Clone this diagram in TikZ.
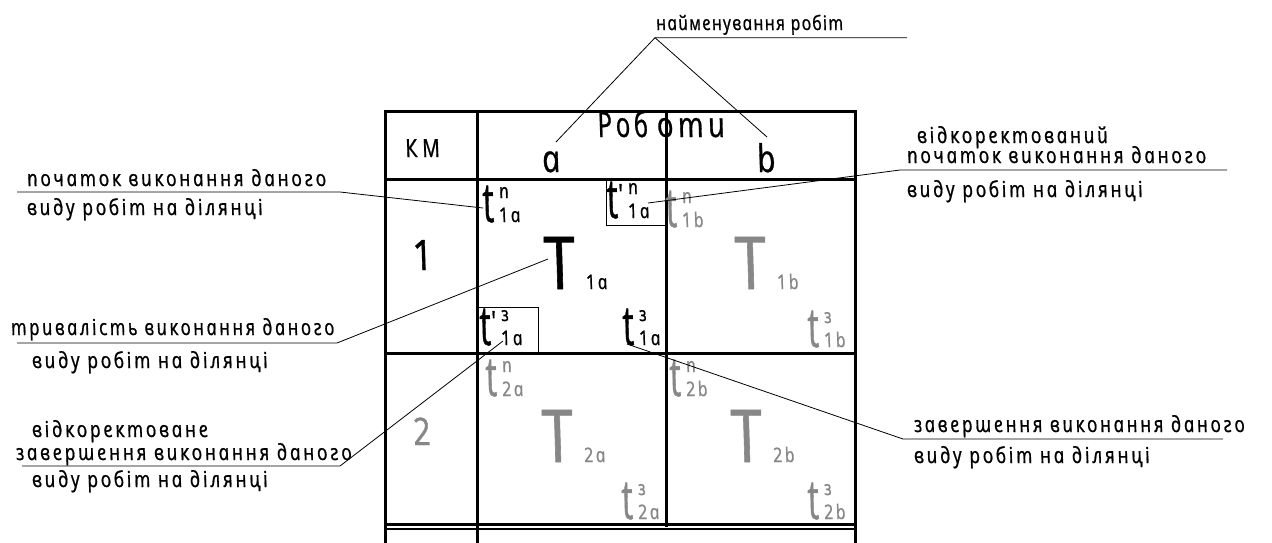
\documentclass[tikz,border=0pt]{standalone}
\usepackage{fontspec}
\usepackage{graphicx}
\newfontfamily\gost{Open Sans Italic}[FakeSlant=-0.21,FakeStretch=0.85,LetterSpace=12,FakeBold=0.8]
\newfontfamily\gostn{Open Sans Italic}[FakeSlant=-0.21,FakeStretch=0.85,LetterSpace=6,FakeBold=0.8]
\definecolor{gr}{HTML}{878787}
\newcommand\tglyph{{\fontsize{46}{46}\selectfont\scalebox{0.85}[1.2]{t}}}
\newcommand\tsym[3]{\tglyph#1\kern4pt\vbox{\fontsize{20}{24}\selectfont\hbox{#2}\hbox{#3}}}
\newcommand\prm{\raisebox{14pt}{\fontsize{28}{28}\selectfont'}}
\newcommand\Tsym[1]{{\fontsize{73}{73}\selectfont T}\kern8pt{\fontsize{20}{20}\selectfont #1}}
\begin{document}
\begin{tikzpicture}[x=1pt,y=-1pt,
  every node/.style={inner sep=0pt,font=\gost},
  tab/.style={line width=3pt,line cap=rect},
  tabthin/.style={line width=2.2pt,line cap=rect},
  lead/.style={line width=0.8pt},
  thinbox/.style={draw,line width=1pt},
  lbl/.style={anchor=base west,font={\gost\fontsize{22}{24}\selectfont}},
  sym/.style={anchor=base west},
  grey/.style={text=gr}]
\useasboundingbox (0,0) rectangle (1272,542);
% table
\draw[tab] (385,111) -- (855,111);
\draw[tab] (385,111) -- (385,525);
\draw[tab] (855,111) -- (855,525);
\draw[tab] (477,111) -- (477,525);
\draw[tab] (666,111) -- (666,525);
\draw[tab] (385,179) -- (855,179);
\draw[tab] (385,353) -- (855,353);
\draw[tabthin] (385,524.5) -- (855,524.5);
\draw[tabthin] (385,529) -- (855,529);
\draw[tab] (385,525) -- (385,545);
\draw[tab] (477,525) -- (477,545);
\draw[tab] (855,525) -- (855,545);
% header
\node[anchor=base] (km) at (424,157) {\fontsize{25}{25}\selectfont К\kern5ptМ};
\node[anchor=base west] (rob) at (599,137) {\fontsize{35}{35}\selectfont\scalebox{0.87}[1]{Роб}\hspace{9pt}оти};
\node[anchor=base west] (ha) at (544,172) {\fontsize{38}{38}\selectfont a};
\node[anchor=base west] (hb) at (759,172) {\fontsize{38}{38}\selectfont b};
\node[anchor=base] (r1) at (425,270) {\fontsize{42}{42}\selectfont 1};
\node[anchor=base,grey] (r2) at (424,445) {\fontsize{38}{38}\selectfont 2};
% row 1
\node[sym] (tn1a) at (485,222) {\tsym{}{п}{1a}};
\node[thinbox,anchor=north west,minimum width=60pt,minimum height=46pt] (bx1) at (606,179) {};
\node[sym] (tpn1a) at (609,218) {\tsym{\prm}{п}{1a}};
\node[sym] (T1a) at (548,289) {\Tsym{1a}};
\node[thinbox,anchor=north west,minimum width=61pt,minimum height=46pt] (bx2) at (477,307) {};
\node[sym] (tp31a) at (482,345) {\tsym{\prm}{з}{1a}};
\node[sym] (t31a) at (625,345) {\tsym{}{з}{1a}};
\node[sym,grey] (tn1b) at (668,227) {\tsym{}{п}{1b}};
\node[sym,grey] (T1b) at (739,289) {\Tsym{1b}};
\node[sym,grey] (t31b) at (810,347) {\tsym{}{з}{1b}};
% row 2
\node[sym,grey] (tn2a) at (488,396) {\tsym{}{п}{2a}};
\node[sym,grey] (T2a) at (546,462) {\Tsym{2a}};
\node[sym,grey] (t32a) at (624,519) {\tsym{}{з}{2a}};
\node[sym,grey] (tn2b) at (672,396) {\tsym{}{п}{2b}};
\node[sym,grey] (T2b) at (735,462) {\Tsym{2b}};
\node[sym,grey] (t32b) at (810,519) {\tsym{}{з}{2b}};
% labels
\node[anchor=base west,font={\gostn\fontsize{20}{24}\selectfont}] (L1) at (657,30) {найменування робіт};
\node[lbl] (L2a) at (918,143) {відкоректований};
\node[lbl] (L2b) at (908,163) {початок виконання даного};
\node[lbl] (L2c) at (908,197) {виду робіт на ділянці};
\node[lbl] (L3a) at (28,186) {початок виконання даного};
\node[lbl] (L3b) at (28,215) {виду робіт на ділянці};
\node[lbl] (L4a) at (12,335) {\scalebox{0.96}[1]{тривалість виконання даного}};
\node[lbl] (L4b) at (33,368) {виду робіт на ділянці};
\node[lbl] (L5a) at (33,437) {відкоректоване};
\node[lbl] (L5b) at (17,460) {завершення виконання даного};
\node[lbl] (L5c) at (33,487) {виду робіт на ділянці};
\node[lbl] (L6a) at (915,432) {\scalebox{0.985}[1]{завершення виконання даного}};
\node[lbl] (L6b) at (915,463) {виду робіт на ділянці};
% leader coordinates
\coordinate (u1s) at (655,37.7); \coordinate (u1e) at (907,37.7);
\coordinate (pa) at (556,142); \coordinate (pb) at (767,137);
\coordinate (u2s) at (900,170); \coordinate (u2e) at (1227,170); \coordinate (p2) at (648,203);
\coordinate (u3s) at (17,192); \coordinate (u3e) at (340,192); \coordinate (p3) at (483,208);
\coordinate (u4s) at (17,343); \coordinate (u4e) at (337,343); \coordinate (p4) at (548,259);
\coordinate (u5s) at (22,466); \coordinate (u5e) at (340,466); \coordinate (p5) at (503,341);
\coordinate (u6s) at (903,439); \coordinate (u6e) at (1223,439); \coordinate (p6) at (627,344);
\draw[lead] (u1e) -- (u1s) -- (pa);
\draw[lead] (u1s) -- (pb);
\draw[lead] (u2e) -- (u2s) -- (p2);
\draw[lead] (u3s) -- (u3e) -- (p3);
\draw[lead] (u4s) -- (u4e) -- (p4);
\draw[lead] (u5s) -- (u5e) -- (p5);
\draw[lead] (u6e) -- (u6s) -- (p6);
\end{tikzpicture}
\end{document}
